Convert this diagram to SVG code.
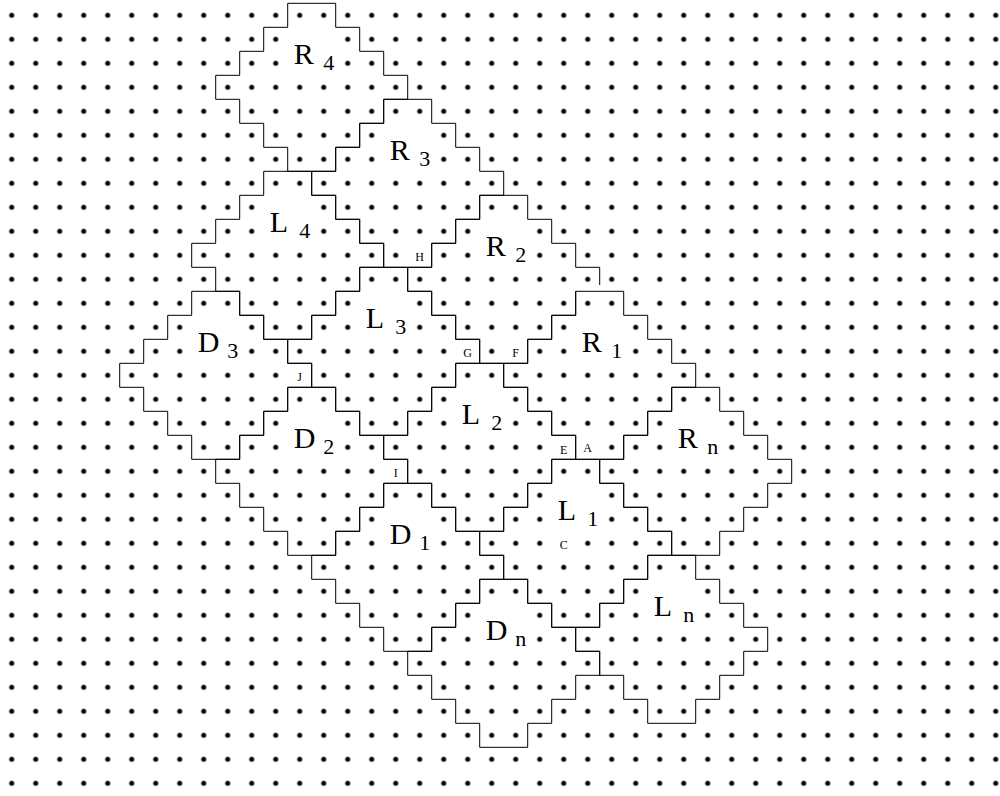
<svg xmlns="http://www.w3.org/2000/svg" xmlns:xlink="http://www.w3.org/1999/xlink" width="1000" height="796" viewBox="0 0 1000 796">
<style>
.tile{fill:none;stroke:#000;stroke-width:1;stroke-linejoin:miter}
.lab{font-family:"Liberation Serif","Times New Roman",serif;font-size:30px;fill:#000}
.sub{font-size:22px}
.pt{font-family:"Liberation Serif","Times New Roman",serif;font-size:12px;fill:#000;text-anchor:middle}
</style>
<defs>
<pattern id="dots" x="-0.3" y="3.3" width="24" height="24" patternUnits="userSpaceOnUse">
<circle cx="12" cy="12" r="2.5" fill="#000"/>
</pattern>
<path id="tileShape" d="M0,0 h48 v24 h24 v24 h24 v24 h24 v24 h-24 v24 h-24 v24 h-24 v24 h-48 v-24 h-24 v-24 h-24 v-24 h-24 v-24 h24 v-24 h24 v-24 h24 z"/>
<mask id="dotmask" maskUnits="userSpaceOnUse" x="0" y="0" width="1000" height="796">
<rect x="0" y="0" width="1000" height="796" fill="#fff"/>
<g fill="#000">
<rect x="291.7" y="31.3" width="40" height="40"/>
<rect x="387.7" y="127.3" width="40" height="40"/>
<rect x="483.7" y="223.3" width="40" height="40"/>
<rect x="579.7" y="319.3" width="40" height="40"/>
<rect x="675.7" y="415.3" width="40" height="40"/>
<rect x="267.7" y="199.3" width="40" height="40"/>
<rect x="363.7" y="295.3" width="40" height="40"/>
<rect x="459.7" y="391.3" width="40" height="40"/>
<rect x="555.7" y="487.3" width="40" height="40"/>
<rect x="651.7" y="583.3" width="40" height="40"/>
<rect x="195.7" y="319.3" width="40" height="40"/>
<rect x="291.7" y="415.3" width="40" height="40"/>
<rect x="387.7" y="511.3" width="40" height="40"/>
<rect x="483.7" y="607.3" width="40" height="40"/>
<rect x="411.7" y="247.3" width="16" height="16"/>
<rect x="459.7" y="343.3" width="16" height="16"/>
<rect x="507.7" y="343.3" width="16" height="16"/>
<rect x="555.7" y="439.3" width="16" height="16"/>
<rect x="579.7" y="439.3" width="16" height="16"/>
<rect x="387.7" y="463.3" width="16" height="16"/>
<rect x="555.7" y="535.3" width="16" height="16"/>
<rect x="291.7" y="367.3" width="16" height="16"/>
</g>
</mask>
</defs>
<rect x="0" y="0" width="1000" height="796" fill="#fff"/>
<g id="grid">
<rect x="0" y="0" width="1000" height="796" fill="url(#dots)" mask="url(#dotmask)"/>
</g>
<g id="R4"><use xlink:href="#tileShape" href="#tileShape" class="tile" x="287.7" y="3.3"/><text class="lab" x="293.7" y="63.8">R<tspan class="sub" x="323.2" y="70.3">4</tspan></text></g>
<g id="R3"><use xlink:href="#tileShape" href="#tileShape" class="tile" x="383.7" y="99.3"/><text class="lab" x="389.7" y="159.8">R<tspan class="sub" x="419.2" y="166.3">3</tspan></text></g>
<g id="R2"><path class="tile" d="M575.7,291.3 v24 h-24 v24 h-24 v24 h-48 v-24 h-24 v-24 h-24 v-24 h-24 v-24 h24 v-24 h24 v-24 h24 v-24 h48 v24 h24 v24 h24 v24 h24 v17.7"/><text class="lab" x="485.7" y="255.8">R<tspan class="sub" x="515.2" y="262.3">2</tspan></text></g>
<g id="R1"><use xlink:href="#tileShape" href="#tileShape" class="tile" x="575.7" y="291.3"/><text class="lab" x="581.7" y="351.8">R<tspan class="sub" x="611.2" y="358.3">1</tspan></text></g>
<g id="Rn"><use xlink:href="#tileShape" href="#tileShape" class="tile" x="671.7" y="387.3"/><text class="lab" x="677.7" y="447.8">R<tspan class="sub" x="707.2" y="454.3">n</tspan></text></g>
<g id="L4"><use xlink:href="#tileShape" href="#tileShape" class="tile" x="263.7" y="171.3"/><text class="lab" x="269.7" y="231.8">L<tspan class="sub" x="299.2" y="238.3">4</tspan></text></g>
<g id="L3"><use xlink:href="#tileShape" href="#tileShape" class="tile" x="359.7" y="267.3"/><text class="lab" x="365.7" y="327.8">L<tspan class="sub" x="395.2" y="334.3">3</tspan></text></g>
<g id="L2"><use xlink:href="#tileShape" href="#tileShape" class="tile" x="455.7" y="363.3"/><text class="lab" x="461.7" y="423.8">L<tspan class="sub" x="491.2" y="430.3">2</tspan></text></g>
<g id="L1"><use xlink:href="#tileShape" href="#tileShape" class="tile" x="551.7" y="459.3"/><text class="lab" x="557.7" y="519.8">L<tspan class="sub" x="587.2" y="526.3">1</tspan></text></g>
<g id="Ln"><use xlink:href="#tileShape" href="#tileShape" class="tile" x="647.7" y="555.3"/><text class="lab" x="653.7" y="615.8">L<tspan class="sub" x="683.2" y="622.3">n</tspan></text></g>
<g id="D3"><use xlink:href="#tileShape" href="#tileShape" class="tile" x="191.7" y="291.3"/><text class="lab" x="197.7" y="351.8">D<tspan class="sub" x="227.2" y="358.3">3</tspan></text></g>
<g id="D2"><use xlink:href="#tileShape" href="#tileShape" class="tile" x="287.7" y="387.3"/><text class="lab" x="293.7" y="447.8">D<tspan class="sub" x="323.2" y="454.3">2</tspan></text></g>
<g id="D1"><use xlink:href="#tileShape" href="#tileShape" class="tile" x="383.7" y="483.3"/><text class="lab" x="389.7" y="543.8">D<tspan class="sub" x="419.2" y="550.3">1</tspan></text></g>
<g id="Dn"><use xlink:href="#tileShape" href="#tileShape" class="tile" x="479.7" y="579.3"/><text class="lab" x="485.7" y="639.8">D<tspan class="sub" x="515.2" y="646.3">n</tspan></text></g>
<g id="points">
<text class="pt" x="419.7" y="261">H</text>
<text class="pt" x="467.7" y="357">G</text>
<text class="pt" x="515.7" y="357">F</text>
<text class="pt" x="563.7" y="453.5">E</text>
<text class="pt" x="587.7" y="452">A</text>
<text class="pt" x="395.7" y="477">I</text>
<text class="pt" x="563.7" y="549">C</text>
<text class="pt" x="299.7" y="381">J</text>
</g>
</svg>
